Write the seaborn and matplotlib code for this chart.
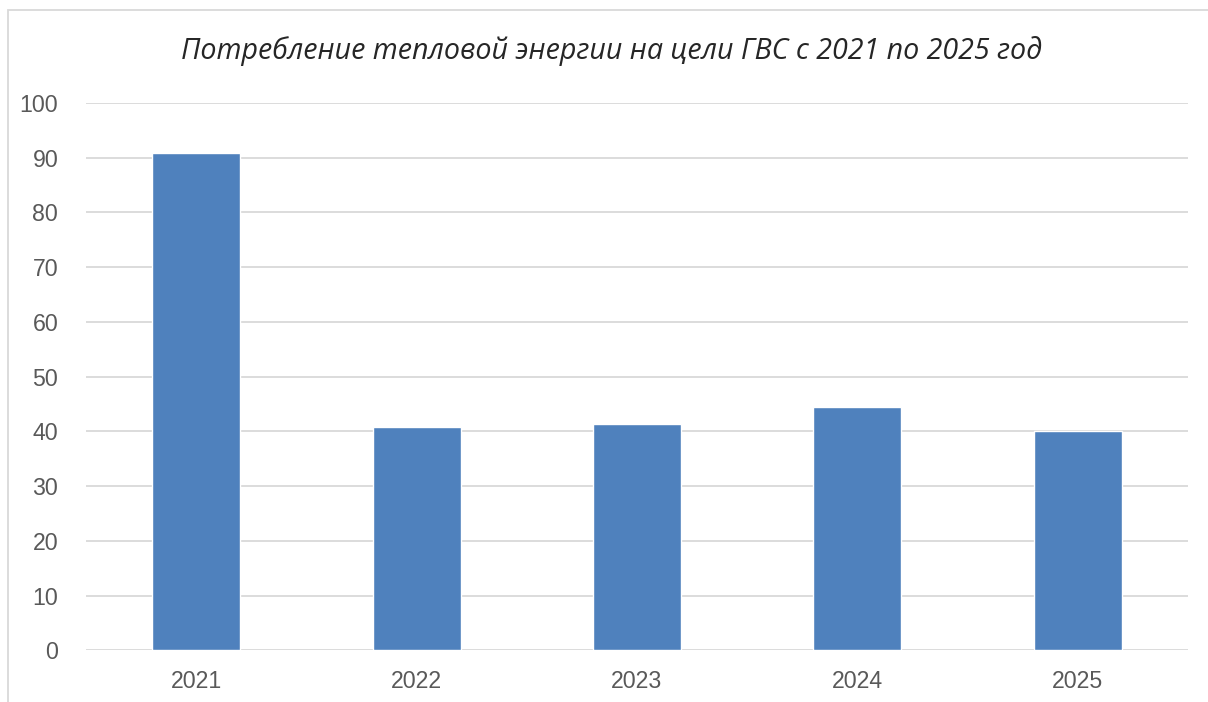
import matplotlib
matplotlib.use("Agg")
import matplotlib.pyplot as plt
import matplotlib.patches as patches
import seaborn as sns
import pandas as pd

# data
years = ["2021", "2022", "2023", "2024", "2025"]
consumption = [90.8, 40.8, 41.4, 44.5, 40.0]
y_ticks = [0, 10, 20, 30, 40, 50, 60, 70, 80, 90, 100]

title = "Потребление тепловой энергии на цели ГВС с 2021 по 2025 год"

df = pd.DataFrame({"Year": years, "Value": consumption})

sns.set_style("white")
plt.rcParams['font.family'] = ['Liberation Sans', 'DejaVu Sans']

fig = plt.figure(figsize=(12.08, 7.02), dpi=100)
ax = fig.add_axes([86 / 1208, 1 - 650.3 / 702, (1188 - 86) / 1208, (650.3 - 103) / 702])

sns.barplot(data=df, x="Year", y="Value", color="#4F81BD", width=0.4,
            saturation=1, ax=ax, zorder=3)

ax.set_ylim(0, 100)
ax.set_xlim(-0.5, 4.5)
ax.set_yticks(y_ticks)
ax.yaxis.grid(True, color="#D9D9D9", linewidth=1.3, zorder=0)
ax.xaxis.grid(False)
ax.set_axisbelow(True)
for side in ["left", "right", "top", "bottom"]:
    ax.spines[side].set_visible(False)
ax.tick_params(axis="both", length=0, labelsize=16.7, labelcolor="#595959")
ax.tick_params(axis="y", pad=20)
ax.tick_params(axis="x", pad=14)
ax.set_xlabel("")
ax.set_ylabel("")

fig.text(612 / 1208, 1 - 51 / 702, title, ha="center", va="center", fontsize=20.6,
         style="italic", family=["Open Sans", "DejaVu Sans"], color="#262626")

# light frame of the chart area (right and bottom edges fall outside the image)
frame = patches.Rectangle((8 / 1208, -0.05), 1.2, 1 - 10 / 702 + 0.05,
                          transform=fig.transFigure, fill=False,
                          edgecolor="#D9D9D9", linewidth=1.3)
fig.patches.append(frame)

fig.savefig("out.png", dpi=100)
